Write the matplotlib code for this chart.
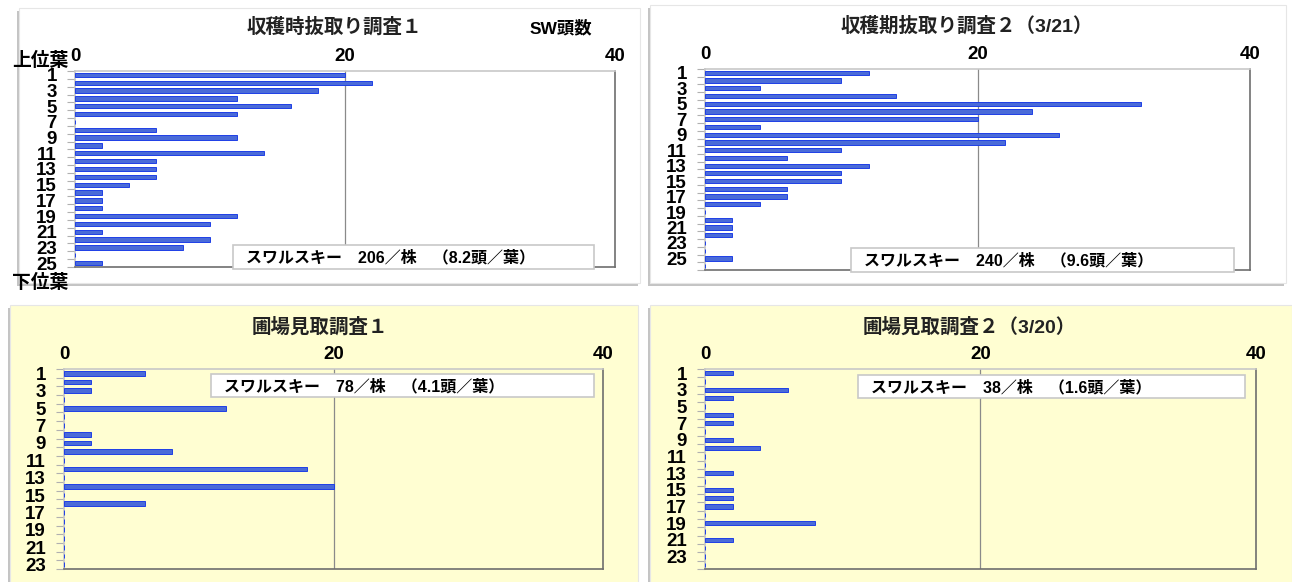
import numpy as np
import matplotlib.pyplot as plt
from matplotlib.patches import Rectangle

plt.rcParams['font.family'] = ['Noto Sans CJK JP', 'DejaVu Sans']

W, H = 1292, 582

# SW (スワルスキー) count per leaf position, top leaf first
sw_harvest1 = [20, 22, 18, 12, 16, 12, 0, 6, 12, 2, 14, 6, 6, 6, 4, 2, 2, 2, 12, 10, 2, 10, 8, 0, 2]
sw_harvest2 = [12, 10, 4, 14, 32, 24, 20, 4, 26, 22, 10, 6, 12, 10, 10, 6, 6, 4, 0, 2, 2, 2, 0, 0, 2, 0]
sw_field1 = [6, 2, 2, 0, 12, 0, 0, 2, 2, 8, 0, 18, 0, 20, 0, 6, 0, 0, 0, 0, 0, 0, 0]
sw_field2 = [2, 0, 6, 2, 0, 2, 2, 0, 2, 4, 0, 0, 2, 0, 2, 2, 2, 0, 8, 0, 2, 0, 0, 0]

titles = ['収穫時抜取り調査１', '収穫期抜取り調査２（3/21）', '圃場見取調査１', '圃場見取調査２（3/20）']
notes = ['スワルスキー　206／株　（8.2頭／葉）',
         'スワルスキー　240／株　（9.6頭／葉）',
         'スワルスキー　78／株　（4.1頭／葉）',
         'スワルスキー　38／株　（1.6頭／葉）']
x_ticks = [0, 20, 40]

YELLOW = '#FFFED2'
BAR = '#4A6BD8'
BAR_EDGE = '#1E3FE6'
NUM_FONT = ['Liberation Sans', 'DejaVu Sans']
MIX_FONT = ['Liberation Sans', 'Noto Sans CJK JP', 'DejaVu Sans']

fig = plt.figure(figsize=(W / 100, H / 100), dpi=100)

# background layer in pixel coords (cards + shadows)
bg = fig.add_axes([0, 0, 1, 1], zorder=-5)
bg.set_xlim(0, W)
bg.set_ylim(H, 0)
bg.axis('off')

# overlay layer for titles and note boxes
ov = fig.add_axes([0, 0, 1, 1], zorder=10)
ov.set_xlim(0, W)
ov.set_ylim(H, 0)
ov.axis('off')
ov.patch.set_alpha(0)

cards = [(19, 8, 640, 283, 'white'), (650, 5, 1286, 283, 'white'),
         (10, 305, 638, 590, YELLOW), (650, 305, 1292, 590, YELLOW)]
for l, t, r, b, c in cards:
    bg.add_patch(Rectangle((l - 2, t + 3), r - l, b - t, fc='#C4C4C4', ec='none'))
    bg.add_patch(Rectangle((l, t), r - l, b - t, fc=c, ec='#E6E6E6', lw=0.8))


def px_axes(l, t, r, b):
    return fig.add_axes([l / W, 1 - b / H, (r - l) / W, (b - t) / H])


boxes = [(75, 71, 615, 267), (705, 69, 1250, 270), (64, 369, 603, 569), (705, 369, 1256, 569)]
note_boxes = [(233, 245, 594, 269), (851, 248, 1234, 272), (211, 374, 594, 397), (858, 375, 1245, 398)]
title_pos = [(334, 27), (967, 26), (320, 327), (969, 327)]
series = [sw_harvest1, sw_harvest2, sw_field1, sw_field2]
faces = ['white', 'white', YELLOW, YELLOW]

for i, vals in enumerate(series):
    ax = px_axes(*boxes[i])
    ax.set_facecolor(faces[i])
    n = len(vals)
    leaves = np.arange(1, n + 1)
    ax.barh(leaves, vals, height=0.55, color=BAR, edgecolor=BAR_EDGE, linewidth=0.7, zorder=3)
    ax.set_xlim(0, 40)
    ax.set_ylim(n + 0.5, 0.5)
    ax.axvline(20, color='#8A8A8A', lw=0.9, zorder=1)

    ax.xaxis.tick_top()
    ax.set_xticks(x_ticks)
    ax.set_xticklabels([str(v) for v in x_ticks], family=NUM_FONT, fontweight='bold', fontsize=13.5)
    ax.tick_params(axis='x', length=0, pad=4)

    ax.set_yticks(np.arange(0.5, n + 1, 1))
    ax.set_yticklabels([])
    ax.set_yticks(leaves[::2], minor=True)
    ax.set_yticklabels([str(v) for v in leaves[::2]], minor=True,
                       family=NUM_FONT, fontweight='bold', fontsize=13.5)
    ax.tick_params(axis='y', which='major', length=6, color='#B0B0B0', width=0.8)
    ax.tick_params(axis='y', which='minor', length=0, pad=13)

    ax.spines['top'].set_color('#C8C8C8')
    ax.spines['left'].set_color('#C8C8C8')
    ax.spines['right'].set_color('#6E6E6E')
    ax.spines['bottom'].set_color('#6E6E6E')
    for s in ax.spines.values():
        s.set_linewidth(1.2)

    l, t, r, b = note_boxes[i]
    ov.add_patch(Rectangle((l, t), r - l, b - t, fc='white', ec='#C8C8C8', lw=1.2))
    ov.text(l + 13, (t + b) / 2 + 1, notes[i], family=MIX_FONT, fontsize=11.5,
            fontweight='bold', ha='left', va='center')

    tx, ty = title_pos[i]
    ov.text(tx, ty, titles[i], family=MIX_FONT, fontsize=14, fontweight='bold',
            ha='center', va='center', color='#222222')

ov.text(561, 28, 'SW頭数', family=MIX_FONT, fontsize=12.5, fontweight='bold', ha='center', va='center')
ov.text(40, 60, '上位葉', fontsize=13.5, fontweight='bold', ha='center', va='center')
ov.text(40, 283, '下位葉', fontsize=13.5, fontweight='bold', ha='center', va='center')

fig.savefig('out.png', dpi=100)
